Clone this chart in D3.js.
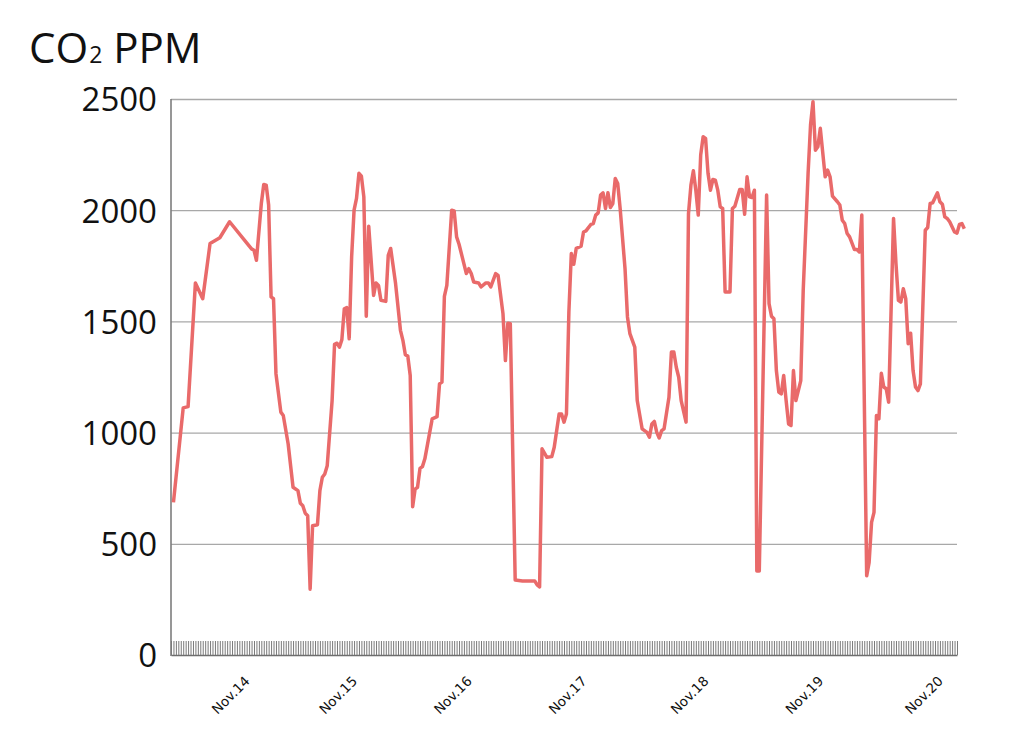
<!DOCTYPE html>
<html>
<head>
<meta charset="utf-8">
<script src="https://cdn.jsdelivr.net/npm/d3@7"></script>
<style>
  body { margin: 0; background: #fff; }
  .grid line { stroke: #a8a8a8; stroke-width: 1.3px; }
  .grid path { display: none; }
  .grid text { font-family: "Open Sans", sans-serif; font-size: 33px; fill: #111; }
  .ticks line { stroke: #7a7a7a; stroke-width: 1px; }
  .ticks path { stroke: #6e6e6e; stroke-width: 1.5px; }
  .days path, .days line { display: none; }
  .days text { font-family: "DejaVu Sans", sans-serif; font-size: 13.5px; fill: #111; }
</style>
</head>
<body>
<svg id="chart"></svg>
<script>
// DATA /////////////////////////////////////////////////////////////////////

// reading number along the category axis, and CO2 value at that reading
var reading = [1, 5, 7, 10, 13, 16, 20, 24, 31, 33, 34, 35, 37, 38, 39, 40, 41, 42, 43, 45,
    46, 48, 50, 52, 53, 54, 55, 56, 57, 58, 60, 61, 62, 63, 64, 66, 67, 68, 69, 70,
    71, 72, 73, 74, 75, 76, 77, 78, 79, 80, 81, 83, 84, 85, 86, 88, 89, 90, 92, 94,
    95, 96, 97, 98, 99, 100, 101, 102, 103, 104, 107, 109, 110, 111, 112, 113, 115, 116, 117, 118,
    121, 122, 123, 124, 126, 127, 129, 130, 131, 133, 134, 136, 137, 138, 139, 141, 144, 149, 150, 151,
    152, 154, 156, 157, 159, 160, 161, 162, 163, 164, 165, 166, 168, 169, 170, 172, 173, 174, 175, 176,
    177, 178, 179, 180, 181, 182, 183, 184, 186, 187, 188, 190, 191, 193, 195, 196, 197, 198, 199, 200,
    201, 202, 204, 205, 206, 207, 208, 209, 211, 212, 213, 214, 215, 216, 217, 218, 219, 220, 221, 222,
    223, 224, 225, 226, 227, 229, 230, 231, 233, 234, 235, 236, 237, 238, 239, 240, 241, 244, 245, 246,
    247, 248, 249, 250, 251, 252, 253, 254, 255, 256, 257, 258, 259, 261, 262, 263, 264, 265, 266, 268,
    269, 270, 271, 273, 274, 275, 276, 277, 278, 280, 281, 282, 283, 285, 286, 287, 288, 289, 290, 291,
    292, 293, 294, 296, 297, 298, 299, 300, 301, 302, 303, 304, 305, 306, 307, 309, 310, 311, 312, 314,
    315, 316, 317, 318, 319, 321, 322, 323, 324, 325];

var ppm = [686, 1111, 1117, 1673, 1602, 1850, 1876, 1948, 1853, 1826, 1820, 1775, 2030, 2116, 2113, 2023, 1610, 1602, 1265, 1092,
    1077, 949, 754, 739, 682, 671, 637, 626, 296, 581, 586, 739, 799, 814, 851, 1144, 1397, 1402, 1384, 1418,
    1557, 1562, 1422, 1790, 2000, 2053, 2166, 2153, 2060, 1523, 1928, 1617, 1673, 1662, 1595, 1590, 1797, 1828, 1670, 1460,
    1415, 1350, 1344, 1257, 667, 746, 754, 839, 847, 882, 1062, 1072, 1219, 1227, 1613, 1662, 2000, 1997, 1880, 1847,
    1715, 1737, 1715, 1677, 1673, 1655, 1673, 1673, 1655, 1715, 1707, 1535, 1324, 1492, 1490, 337, 333, 333, 315, 306,
    927, 889, 892, 934, 1084, 1084, 1047, 1084, 1542, 1805, 1757, 1828, 1838, 1902, 1907, 1936, 1940, 1978, 1988, 2068,
    2078, 2008, 2078, 2012, 2030, 2143, 2120, 2008, 1737, 1520, 1445, 1384, 1144, 1017, 1001, 979, 1039, 1050, 1001, 976,
    1009, 1017, 1159, 1362, 1362, 1294, 1249, 1144, 1047, 1985, 2113, 2177, 2090, 1978, 2248, 2330, 2323, 2166, 2090, 2138,
    2135, 2090, 2015, 2008, 1632, 1632, 2008, 2018, 2093, 2093, 1982, 2150, 2060, 2057, 2090, 378, 378, 2068, 1580, 1523,
    1512, 1279, 1182, 1174, 1257, 1144, 1039, 1032, 1279, 1144, 1189, 1234, 1640, 2166, 2383, 2488, 2270, 2285, 2368, 2150,
    2180, 2150, 2063, 2038, 2023, 1955, 1940, 1895, 1880, 1823, 1823, 1812, 1978, 356, 416, 596, 641, 1077, 1062, 1267,
    1205, 1197, 1137, 1963, 1760, 1595, 1587, 1647, 1602, 1400, 1447, 1279, 1205, 1189, 1219, 1910, 1922, 2030, 2033, 2078,
    2038, 2027, 1970, 1963, 1948, 1902, 1897, 1936, 1940, 1917];

var READINGS = 322;                       // categories on the x axis
var dayLabels = ["Nov.14", "Nov.15", "Nov.16", "Nov.17", "Nov.18", "Nov.19", "Nov.20"];
var dayIndex = [32, 76, 123, 170, 220, 267, 316];
var yTicks = [0, 500, 1000, 1500, 2000, 2500];


// SETUP ////////////////////////////////////////////////////////////////////

const W = 1024, H = 737;
const LEFT = 171, RIGHT = 957, TOP = 99, BOTTOM = 655;
const LINE_COLOUR = "#e96a6a";

var svg = d3.select("#chart").attr("width", W).attr("height", H);

var x = d3.scaleLinear().domain([0, READINGS]).range([LEFT, RIGHT]);
var y = d3.scaleLinear().domain([0, 2500]).range([BOTTOM, TOP]);

var dataset = reading.map(function (r, i) { return { r: r, v: ppm[i] }; });


// AXES /////////////////////////////////////////////////////////////////////

// gridlines + value labels
var grid = svg.append("g")
    .attr("class", "grid")
    .attr("transform", "translate(" + LEFT + ",0)")
    .call(d3.axisLeft(y)
        .tickValues(yTicks)
        .tickSize(-(RIGHT - LEFT))
        .tickPadding(14)
        .tickFormat(d3.format("d")));
grid.selectAll(".tick line").filter(function (d) { return d === 0; }).remove();
grid.selectAll(".tick text").attr("dy", "0.36em");

// left axis line
svg.append("line")
    .attr("x1", LEFT).attr("x2", LEFT)
    .attr("y1", y(2500)).attr("y2", y(0) + 1)
    .attr("stroke", "#7d7d7d")
    .attr("stroke-width", 1.6);

// one tick per reading, pointing up into the plot
svg.append("g")
    .attr("class", "ticks")
    .attr("transform", "translate(0," + BOTTOM + ")")
    .call(d3.axisBottom(x)
        .tickValues(d3.range(0, READINGS + 1))
        .tickSize(-14)
        .tickSizeOuter(0)
        .tickFormat(""));

// day labels
svg.append("g")
    .attr("class", "days")
    .attr("transform", "translate(0," + BOTTOM + ")")
    .call(d3.axisBottom(x)
        .tickValues(dayIndex)
        .tickSize(0)
        .tickFormat(function (d, i) { return dayLabels[i]; }))
    .selectAll("text")
    .style("text-anchor", "end")
    .attr("dy", null)
    .attr("y", 0)
    .attr("transform", "translate(1,27) rotate(-45)");

// title, with a baseline-sitting small "2"
var title = svg.append("text")
    .attr("x", 29)
    .attr("y", 63)
    .style("font-family", "'Open Sans', sans-serif")
    .style("font-size", "42px")
    .style("fill", "#111");
title.append("tspan").text("CO");
title.append("tspan").text("2").style("font-size", "23px").attr("dx", 1);
title.append("tspan").text(" PPM");


// LINE /////////////////////////////////////////////////////////////////////

var line = d3.line()
    .x(function (d) { return x(d.r); })
    .y(function (d) { return y(d.v); });

svg.append("path")
    .datum(dataset)
    .attr("fill", "none")
    .attr("stroke", LINE_COLOUR)
    .attr("stroke-width", 3.5)
    .attr("stroke-linejoin", "round")
    .attr("d", line);
</script>
</body>
</html>
